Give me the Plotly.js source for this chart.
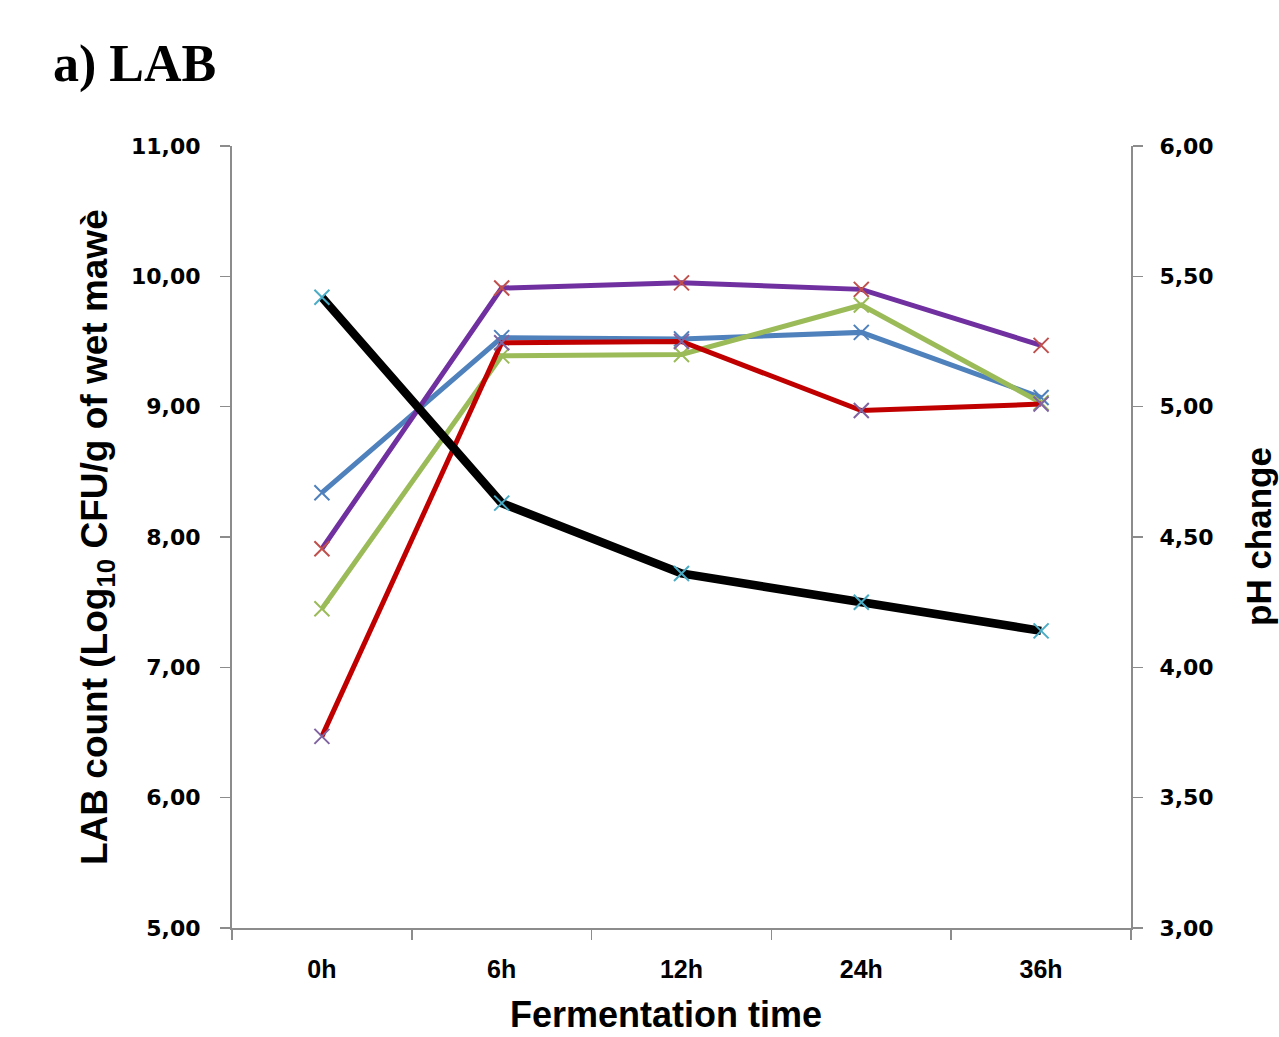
<!DOCTYPE html>
<html>
<head>
<meta charset="utf-8">
<script src="https://cdn.plot.ly/plotly-3.0.1.min.js"></script>
<style>html,body{margin:0;padding:0;background:#fff;}#chart{width:1279px;height:1037px;}</style>
</head>
<body>
<div id="chart"></div>
<script>
const categories = ["0h", "6h", "12h", "24h", "36h"];
const seriesBlue   = [8.34, 9.53, 9.52, 9.57, 9.07];
const seriesPurple = [7.91, 9.91, 9.95, 9.90, 9.47];
const seriesGreen  = [7.45, 9.39, 9.40, 9.78, 9.03];
const seriesRed    = [6.47, 9.49, 9.50, 8.97, 9.02];
const phValues     = [5.42, 4.63, 4.36, 4.25, 4.14];
const leftTicks  = [5, 6, 7, 8, 9, 10, 11];
const leftTickLabels  = ["5,00", "6,00", "7,00", "8,00", "9,00", "10,00", "11,00"];
const rightTicks = [3, 3.5, 4, 4.5, 5, 5.5, 6];
const rightTickLabels = ["3,00", "3,50", "4,00", "4,50", "5,00", "5,50", "6,00"];

function lab(y, lineColor, markerColor, w) {
  return {
    x: categories, y: y, type: 'scatter', mode: 'lines+markers',
    line: {color: lineColor, width: w},
    marker: {symbol: 'x-thin', size: 15, line: {color: markerColor, width: 2}, color: markerColor},
    hoverinfo: 'skip', showlegend: false
  };
}
const traces = [
  lab(seriesBlue, '#4F81BD', '#4F81BD', 5),
  lab(seriesPurple, '#7030A0', '#C0504D', 5),
  lab(seriesGreen, '#9BBB59', '#9BBB59', 5),
  lab(seriesRed, '#C00000', '#8064A2', 5),
  Object.assign(lab(phValues, '#000000', '#4BACC6', 8.5), {yaxis: 'y2'})
];

const L = 232, R = 1131, T = 146, B = 928;
const px = v => (v - L) / (R - L);
const py = v => (B - v) / (B - T);

const tickFont = {family: 'DejaVu Sans, Verdana, sans-serif', size: 22, color: '#000', weight: 'bold'};
const narrow = 'Liberation Sans Narrow, Liberation Sans, Arial, sans-serif';
const layout = {
  width: 1279, height: 1037,
  margin: {l: L, r: 1279 - R, t: T, b: 1037 - B, pad: 0},
  paper_bgcolor: '#fff', plot_bgcolor: '#fff',
  showlegend: false,
  title: {text: '<b>a) LAB</b>', font: {family: 'Liberation Serif, Times New Roman, serif', size: 52, color: '#000'},
          x: 53/1279, xanchor: 'left', xref: 'container', y: 1 - 63/1037, yanchor: 'middle', yref: 'container'},
  xaxis: {
    type: 'category', range: [-0.5, 4.5], tickson: 'boundaries',
    showline: true, linecolor: '#8c8c8c', linewidth: 2, mirror: false,
    ticks: 'outside', ticklen: 10, tickwidth: 1.5, tickcolor: '#8c8c8c',
    showgrid: false, zeroline: false,
    tickfont: {family: narrow, size: 25, color: '#000', weight: 'bold'},
    ticklabelstandoff: 18, fixedrange: true
  },
  yaxis: {
    range: [5, 11], tickvals: leftTicks, ticktext: leftTickLabels,
    showline: true, linecolor: '#8c8c8c', linewidth: 2,
    ticks: 'outside', ticklen: 10, tickwidth: 1.5, tickcolor: '#8c8c8c',
    showgrid: false, zeroline: false, tickfont: tickFont, ticklabelstandoff: 15
  },
  yaxis2: {
    range: [3, 6], tickvals: rightTicks, ticktext: rightTickLabels,
    overlaying: 'y', side: 'right',
    showline: true, linecolor: '#8c8c8c', linewidth: 2,
    ticks: 'outside', ticklen: 10, tickwidth: 1.5, tickcolor: '#8c8c8c',
    showgrid: false, zeroline: false, tickfont: tickFont, ticklabelstandoff: 12
  },
  annotations: [
    {text: '<b>LAB count (Log<sub>10</sub> CFU/g of wet mawè</b>', textangle: -90,
     xref: 'paper', yref: 'paper', x: px(97), y: py(537), xanchor: 'center', yanchor: 'middle', showarrow: false,
     font: {family: narrow, size: 37, color: '#000'}},
    {text: '<b>pH change</b>', textangle: -90,
     xref: 'paper', yref: 'paper', x: px(1258), y: py(537), xanchor: 'center', yanchor: 'middle', showarrow: false,
     font: {family: narrow, size: 35, color: '#000'}},
    {text: '<b>Fermentation time</b>',
     xref: 'paper', yref: 'paper', x: px(666), y: py(1037), xanchor: 'center', yanchor: 'bottom', showarrow: false,
     font: {family: narrow, size: 36, color: '#000'}}
  ]
};
Plotly.newPlot('chart', traces, layout, {staticPlot: true, displayModeBar: false});
</script>
</body>
</html>
